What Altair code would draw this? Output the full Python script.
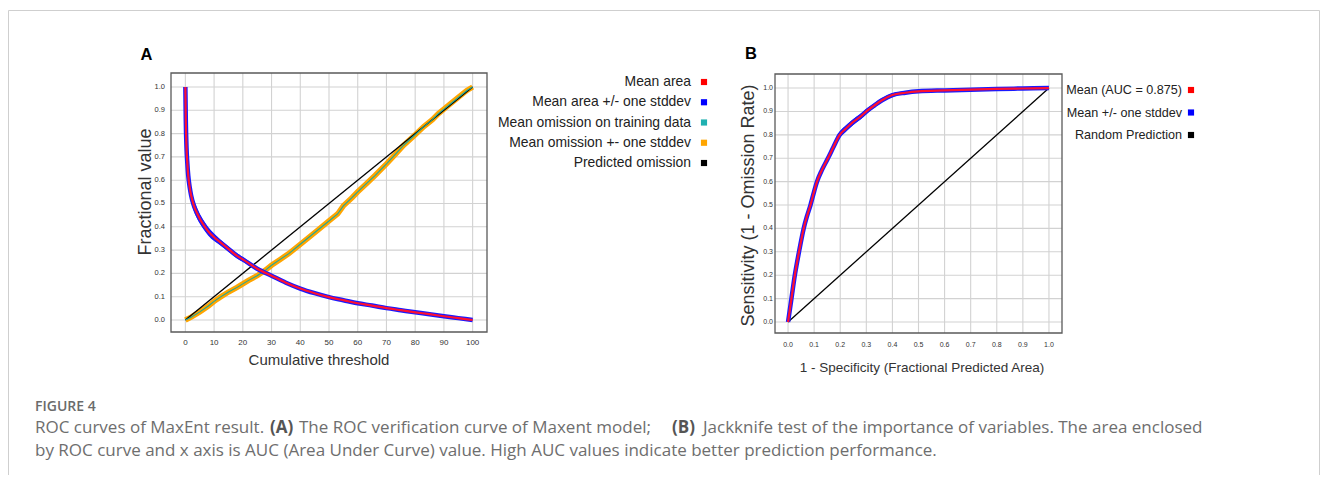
import altair as alt
import pandas as pd

# ---------------- Panel A data ----------------
area_x = [0, 0.15, 0.4, 0.7, 1, 1.5, 2, 3, 4, 5, 6, 8, 10, 12, 15, 18, 20, 25, 30, 35,
          40, 45, 50, 55, 60, 65, 70, 75, 80, 85, 90, 95, 100]
area_mean = [1.0, 0.86, 0.74, 0.67, 0.62, 0.57, 0.535, 0.49, 0.46, 0.435, 0.415, 0.38,
             0.355, 0.335, 0.305, 0.275, 0.26, 0.22, 0.19, 0.16, 0.135, 0.115, 0.098,
             0.085, 0.072, 0.062, 0.051, 0.042, 0.033, 0.025, 0.016, 0.008, 0.0]
area_sd = [0.0, 0.03, 0.03, 0.03, 0.028, 0.026, 0.025, 0.024, 0.022, 0.021, 0.02, 0.018,
           0.016, 0.013, 0.012, 0.011, 0.01, 0.008, 0.007, 0.006, 0.005, 0.005, 0.004,
           0.004, 0.004, 0.003, 0.003, 0.003, 0.003, 0.002, 0.002, 0.002, 0.0]

om_x = [0, 2, 5, 8, 10, 12, 15, 18, 20, 22, 25, 28, 30, 33, 36, 40, 43, 46, 50, 53, 55,
        58, 60, 63, 66, 70, 73, 76, 80, 83, 86, 88, 90, 92, 95, 98, 100]
om_mean = [0.0, 0.012, 0.035, 0.06, 0.08, 0.097, 0.12, 0.14, 0.155, 0.17, 0.19, 0.215,
           0.235, 0.26, 0.285, 0.325, 0.355, 0.385, 0.425, 0.455, 0.49, 0.525, 0.55,
           0.585, 0.62, 0.67, 0.71, 0.75, 0.795, 0.83, 0.86, 0.885, 0.905, 0.925, 0.955,
           0.985, 1.0]
om_sd = [0.0, 0.006, 0.008, 0.009, 0.01, 0.01, 0.01, 0.01, 0.01, 0.01, 0.01, 0.01, 0.01,
         0.01, 0.01, 0.01, 0.01, 0.01, 0.01, 0.01, 0.01, 0.01, 0.01, 0.01, 0.01, 0.01,
         0.01, 0.01, 0.01, 0.009, 0.009, 0.008, 0.008, 0.007, 0.006, 0.004, 0.0]

pred_x = [0, 100]
pred_y = [0.0, 1.0]

a_xticks = [0, 10, 20, 30, 40, 50, 60, 70, 80, 90, 100]
a_xlabels = ["0", "10", "20", "30", "40", "50", "60", "70", "80", "90", "100"]
a_yticks = [0.0, 0.1, 0.2, 0.3, 0.4, 0.5, 0.6, 0.7, 0.8, 0.9, 1.0]
a_ylabels = ["0.0", "0.1", "0.2", "0.3", "0.4", "0.5", "0.6", "0.7", "0.8", "0.9", "1.0"]
a_xdom = [-5, 105]
a_ydom = [-0.0515, 1.06]

# ---------------- Panel B data ----------------
roc_x = [0, 0.013, 0.026, 0.042, 0.06, 0.072, 0.086, 0.098, 0.111, 0.13, 0.153, 0.175,
         0.198, 0.22, 0.25, 0.28, 0.30, 0.33, 0.36, 0.4, 0.45, 0.5, 0.6, 0.7, 0.8, 0.9, 1.0]
roc_mean = [0.0, 0.1, 0.2, 0.3, 0.4, 0.45, 0.5, 0.55, 0.6, 0.65, 0.7, 0.75, 0.8, 0.825,
            0.855, 0.88, 0.9, 0.925, 0.948, 0.97, 0.98, 0.986, 0.99, 0.993, 0.996, 0.998, 1.0]
roc_sd = [0.0, 0.006, 0.008, 0.01, 0.012, 0.012, 0.012, 0.013, 0.013, 0.013, 0.013, 0.013,
          0.014, 0.014, 0.013, 0.012, 0.011, 0.01, 0.009, 0.008, 0.006, 0.005, 0.004,
          0.004, 0.003, 0.002, 0.0]
rand_x = [0.0, 1.0]
rand_y = [0.0, 1.0]

b_xticks = [0.0, 0.1, 0.2, 0.3, 0.4, 0.5, 0.6, 0.7, 0.8, 0.9, 1.0]
b_xlabels = ["0.0", "0.1", "0.2", "0.3", "0.4", "0.5", "0.6", "0.7", "0.8", "0.9", "1.0"]
b_yticks = [0.0, 0.1, 0.2, 0.3, 0.4, 0.5, 0.6, 0.7, 0.8, 0.9, 1.0]
b_ylabels = ["0.0", "0.1", "0.2", "0.3", "0.4", "0.5", "0.6", "0.7", "0.8", "0.9", "1.0"]
b_xdom = [-0.05, 1.05]
b_ydom = [-0.047, 1.06]

# ---------------- Legends / text ----------------
legA_labels = ["Mean area", "Mean area +/- one stddev", "Mean omission on training data",
               "Mean omission +- one stddev", "Predicted omission"]
legA_colors = ["#ff0000", "#0000ff", "#1fb0b0", "#ffa500", "#000000"]
legB_labels = ["Mean (AUC = 0.875)", "Mean +/- one stddev", "Random Prediction"]
legB_colors = ["#ff0000", "#0000ff", "#000000"]

a_xtitle = "Cumulative threshold"
a_ytitle = "Fractional value"
b_xtitle = "1 - Specificity (Fractional Predicted Area)"
b_ytitle = "Sensitivity (1 - Omission Rate)"

fig_label = "FIGURE 4"
cap1_parts = ["ROC curves of MaxEnt result.", "(A)",
              "The ROC verification curve of Maxent model;", "(B)",
              "Jackknife test of the importance of variables. The area enclosed"]
cap1_bold = [False, True, False, True, False]
cap1_xs = [27, 262, 291, 664, 695]
cap2 = ("by ROC curve and x axis is AUC (Area Under Curve) value. High AUC values "
        "indicate better prediction performance.")

W, H = 1312, 467
FONT = "Liberation Sans, Arial, sans-serif"
GRID = "#d2d2d2"
FRAME = "#5a5a5a"
TICKC = "#333333"


def text_layer(txt, x, y, size, font=FONT, weight="normal", color="#222", align="left",
               baseline="middle", angle=0):
    return alt.Chart(pd.DataFrame({"t": [txt]})).mark_text(
        font=font, fontSize=size, fontWeight=weight, color=color, align=align,
        baseline=baseline, angle=angle).encode(text="t:N", x=alt.value(x), y=alt.value(y))


def panel(xdom, ydom, xr, yr, xticks, xlabels, yticks, ylabels, xlab_y, ylab_x,
          xtick_size, ytick_size, curves):
    XS = alt.Scale(domain=xdom, range=xr, nice=False, zero=False)
    YS = alt.Scale(domain=ydom, range=yr, nice=False, zero=False)
    vgrid = pd.DataFrame({"v": xticks, "lab": xlabels, "lo": ydom[0], "hi": ydom[1]})
    hgrid = pd.DataFrame({"v": yticks, "lab": ylabels, "lo": xdom[0], "hi": xdom[1]})
    gv = alt.Chart(vgrid).mark_rule(color=GRID, strokeWidth=1.1).encode(
        x=alt.X("v:Q", scale=XS, axis=None),
        y=alt.Y("lo:Q", scale=YS, axis=None), y2="hi:Q")
    gh = alt.Chart(hgrid).mark_rule(color=GRID, strokeWidth=1.1).encode(
        y=alt.Y("v:Q", scale=YS, axis=None),
        x=alt.X("lo:Q", scale=XS, axis=None), x2="hi:Q")
    xl = alt.Chart(vgrid).mark_text(font=FONT, fontSize=xtick_size, color=TICKC,
                                    baseline="middle", align="center").encode(
        x=alt.X("v:Q", scale=XS, axis=None), y=alt.value(xlab_y), text="lab:N")
    yl = alt.Chart(hgrid).mark_text(font=FONT, fontSize=ytick_size, color=TICKC,
                                    baseline="middle", align="right").encode(
        y=alt.Y("v:Q", scale=YS, axis=None), x=alt.value(ylab_x), text="lab:N")
    frame_df = pd.DataFrame({"x0": [xdom[0]], "x1": [xdom[1]], "y0": [ydom[0]], "y1": [ydom[1]]})
    frame = alt.Chart(frame_df).mark_rect(fill=None, stroke=FRAME, strokeWidth=1.3).encode(
        x=alt.X("x0:Q", scale=XS, axis=None), x2="x1:Q",
        y=alt.Y("y0:Q", scale=YS, axis=None), y2="y1:Q")
    layers = [gv, gh, xl, yl]
    for c in curves:
        df = c["df"]
        interp = c.get("interp", "linear")
        if c["kind"] == "area":
            layers.append(alt.Chart(df).mark_area(color=c["color"], opacity=1,
                                                  interpolate=interp).encode(
                x=alt.X("x:Q", scale=XS, axis=None),
                y=alt.Y("lo:Q", scale=YS, axis=None), y2="hi:Q"))
        else:
            layers.append(alt.Chart(df).mark_line(color=c["color"], strokeWidth=c["w"],
                                                  interpolate=interp).encode(
                x=alt.X("x:Q", scale=XS, axis=None),
                y=alt.Y("y:Q", scale=YS, axis=None),
                order="i:Q"))
    layers.append(frame)
    return alt.layer(*layers)


def band_df(x, m, sd):
    return pd.DataFrame({"x": x, "lo": [a - b for a, b in zip(m, sd)],
                         "hi": [a + b for a, b in zip(m, sd)]})


def line_df(x, y):
    return pd.DataFrame({"x": x, "y": y, "i": list(range(len(x)))})


RED = "#ff1030"
BLUE = "#1a1aff"

panelA = panel(
    a_xdom, a_ydom, [163, 479], [324, 65], a_xticks, a_xlabels, a_yticks, a_ylabels,
    335, 157, 8, 7.5,
    [
        {"kind": "area", "color": "#ffa500", "df": band_df(om_x, om_mean, om_sd)},
        {"kind": "line", "color": "#ffa500", "w": 5.5, "df": line_df(om_x, om_mean)},
        {"kind": "line", "color": "#000000", "w": 1.3, "df": line_df(pred_x, pred_y)},
        {"kind": "line", "color": "#1fa89a", "w": 1.1, "df": line_df(om_x, om_mean)},
        {"kind": "area", "color": BLUE, "interp": "monotone",
         "df": band_df(area_x, area_mean, area_sd)},
        {"kind": "line", "color": BLUE, "w": 4.5, "interp": "monotone",
         "df": line_df(area_x, area_mean)},
        {"kind": "line", "color": RED, "w": 2.2, "interp": "monotone",
         "df": line_df(area_x, area_mean)},
    ])

panelB = panel(
    b_xdom, b_ydom, [767, 1054], [325, 66], b_xticks, b_xlabels, b_yticks, b_ylabels,
    337, 765, 7, 7,
    [
        {"kind": "line", "color": "#000000", "w": 1.3, "df": line_df(rand_x, rand_y)},
        {"kind": "area", "color": BLUE, "interp": "monotone",
         "df": band_df(roc_x, roc_mean, roc_sd)},
        {"kind": "line", "color": BLUE, "w": 4.5, "interp": "monotone",
         "df": line_df(roc_x, roc_mean)},
        {"kind": "line", "color": RED, "w": 2.2, "interp": "monotone",
         "df": line_df(roc_x, roc_mean)},
    ])


def square_layer(color, x, y, size=38):
    return alt.Chart(pd.DataFrame({"c": [color]})).mark_square(
        size=size, color=color, opacity=1, filled=True).encode(
        x=alt.value(x), y=alt.value(y))


ann = []
# outer border
ann.append(alt.Chart(pd.DataFrame({"b": [1]})).mark_rect(
    fill=None, stroke="#cfcfcf", strokeWidth=1).encode(
    x=alt.value(0.5), x2=alt.value(W - 0.5), y=alt.value(2.5), y2=alt.value(H + 20)))
# panel letters
ann.append(text_layer("A", 138.5, 47, 16.5, weight="bold", color="#000", align="center"))
ann.append(text_layer("B", 743, 46, 16.5, weight="bold", color="#000", align="center"))
# axis titles
ann.append(text_layer(a_xtitle, 311, 352, 15, color="#333", align="center"))
ann.append(text_layer(a_ytitle, 138, 184, 18, color="#333", align="center", angle=270))
ann.append(text_layer(b_xtitle, 914, 360, 13.5, color="#333", align="center"))
ann.append(text_layer(b_ytitle, 741, 197.5, 18, color="#333", align="center", angle=270))
# legend A
for i, (lab, col) in enumerate(zip(legA_labels, legA_colors)):
    y = 74 + i * 20.25
    ann.append(text_layer(lab, 683, y, 13.9, color="#222", align="right"))
    ann.append(square_layer(col, 696, y))
# legend B
for i, (lab, col) in enumerate(zip(legB_labels, legB_colors)):
    y = 82 + i * 22.5
    ann.append(text_layer(lab, 1174, y, 12.6, color="#222", align="right"))
    ann.append(square_layer(col, 1183, y))
# caption
CAP = "Open Sans, Lato, sans-serif"
ann.append(text_layer(fig_label, 27, 399, 14, font=CAP, weight=600, color="#6b6b6b"))
for part, bold, x in zip(cap1_parts, cap1_bold, cap1_xs):
    ann.append(text_layer(part, x, 420, 17, font=CAP, weight="bold" if bold else "normal",
                          color="#555" if bold else "#6e6e6e"))
ann.append(text_layer(cap2, 27, 443, 17, font=CAP, color="#6e6e6e"))

chart = alt.layer(panelA, panelB, *ann).resolve_scale(
    x="independent", y="independent").properties(
    width=W, height=H, padding=0, autosize=alt.AutoSizeParams(type="none"),
    background="white").configure_view(stroke=None)

chart.save("out.html", embed_options={"renderer": "svg", "actions": False})
